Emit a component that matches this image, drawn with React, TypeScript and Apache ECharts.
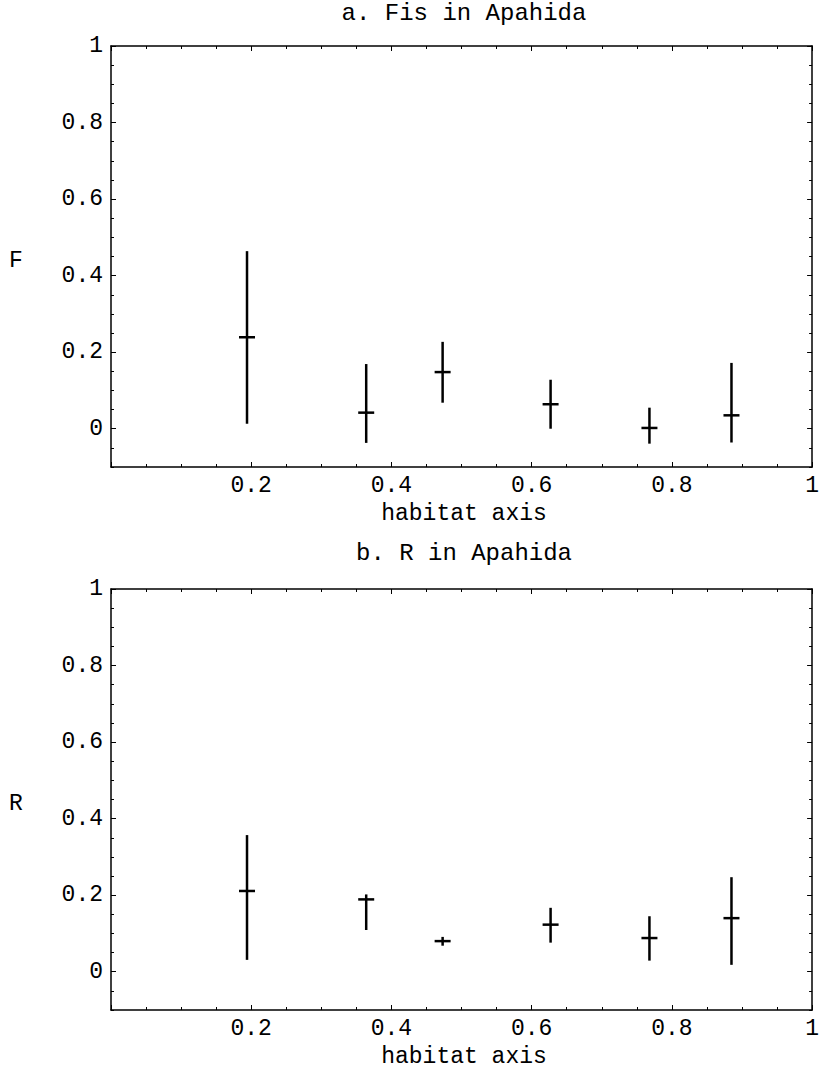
import React, { useEffect, useRef } from "react";
import * as echarts from "echarts";

const habitatX = [0.194, 0.364, 0.473, 0.627, 0.768, 0.885];

const fMid = [0.239, 0.042, 0.148, 0.064, 0.002, 0.035];
const fLow = [0.013, -0.037, 0.068, 0.0, -0.039, -0.036];
const fHigh = [0.464, 0.169, 0.227, 0.128, 0.055, 0.172];

const rMid = [0.211, 0.189, 0.08, 0.123, 0.088, 0.14];
const rLow = [0.031, 0.109, 0.068, 0.076, 0.029, 0.018];
const rHigh = [0.357, 0.202, 0.091, 0.167, 0.145, 0.247];

const yMajorTicks = [0, 0.2, 0.4, 0.6, 0.8, 1];
const yMinorTicks = [-0.1, -0.05, 0.05, 0.1, 0.15, 0.25, 0.3, 0.35, 0.45, 0.5, 0.55, 0.65, 0.7, 0.75, 0.85, 0.9, 0.95];

const titles = ["a. Fis in Apahida", "b. R in Apahida"];
const yNames = ["F", "R"];
const xName = "habitat axis";

const FONT = '"Liberation Mono", "Courier New", monospace';
const FS = 23;

const GRID_LEFT = 111;
const GRID_W = 706;
const GRID_H = 421;
const GRID_TOPS = [46, 589];

export default function App() {
  const ref = useRef<HTMLDivElement>(null);

  useEffect(() => {
    if (!ref.current) return;
    const chart = echarts.init(ref.current, null, { renderer: "svg" });

    const xAxes: any[] = [];
    const yAxes: any[] = [];
    const series: any[] = [];
    const graphics: any[] = [];

    const lineStyle = { color: "#000", width: 1.5 };

    [0, 1].forEach((g) => {
      xAxes.push({
        type: "value",
        gridIndex: g,
        position: "bottom",
        min: 0,
        max: 1,
        interval: 0.2,
        axisLine: { show: true, onZero: false, lineStyle },
        axisTick: { show: true, inside: true, length: 5, lineStyle: { color: "#000", width: 1 } },
        minorTick: { show: true, splitNumber: 4, length: 3, lineStyle: { color: "#000", width: 1 } },
        splitLine: { show: false },
        minorSplitLine: { show: false },
        axisLabel: {
          show: true,
          margin: 7,
          color: "#000",
          fontFamily: FONT,
          fontSize: FS,
          formatter: (v: number) => (v === 0 ? "" : String(Math.round(v * 10) / 10)),
        },
      });
      xAxes.push({
        type: "value",
        gridIndex: g,
        position: "top",
        min: 0,
        max: 1,
        interval: 0.2,
        axisLine: { show: true, onZero: false, lineStyle },
        axisTick: { show: true, inside: true, length: 5, lineStyle: { color: "#000", width: 1 } },
        minorTick: { show: true, splitNumber: 4, length: 3, lineStyle: { color: "#000", width: 1 } },
        splitLine: { show: false },
        axisLabel: { show: false },
      });
      yAxes.push({
        type: "value",
        gridIndex: g,
        position: "left",
        min: -0.1,
        max: 1,
        axisLine: { show: true, onZero: false, lineStyle },
        axisTick: {
          show: true,
          inside: true,
          length: 5,
          customValues: yMajorTicks,
          lineStyle: { color: "#000", width: 1 },
        },
        splitLine: { show: false },
        axisLabel: {
          show: true,
          margin: 8,
          color: "#000",
          fontFamily: FONT,
          fontSize: FS,
          customValues: yMajorTicks,
        },
      });
      yAxes.push({
        type: "value",
        gridIndex: g,
        position: "left",
        offset: 0,
        min: -0.1,
        max: 1,
        axisLine: { show: false, onZero: false },
        axisTick: {
          show: true,
          inside: true,
          length: 3,
          customValues: yMinorTicks,
          lineStyle: { color: "#000", width: 1 },
        },
        splitLine: { show: false },
        axisLabel: { show: false },
      });
      yAxes.push({
        type: "value",
        gridIndex: g,
        position: "right",
        offset: 0,
        min: -0.1,
        max: 1,
        axisLine: { show: true, onZero: false, lineStyle },
        axisTick: {
          show: true,
          inside: true,
          length: 5,
          customValues: yMajorTicks,
          lineStyle: { color: "#000", width: 1 },
        },
        splitLine: { show: false },
        axisLabel: { show: false },
      });
      yAxes.push({
        type: "value",
        gridIndex: g,
        position: "right",
        offset: 0,
        min: -0.1,
        max: 1,
        axisLine: { show: false, onZero: false },
        axisTick: {
          show: true,
          inside: true,
          length: 3,
          customValues: yMinorTicks,
          lineStyle: { color: "#000", width: 1 },
        },
        splitLine: { show: false },
        axisLabel: { show: false },
      });

      const mid = g === 0 ? fMid : rMid;
      const low = g === 0 ? fLow : rLow;
      const high = g === 0 ? fHigh : rHigh;
      const data = habitatX.map((x, i) => [x, low[i], mid[i], high[i]]);

      series.push({
        type: "custom",
        xAxisIndex: g * 2,
        yAxisIndex: g * 4,
        data,
        encode: { x: 0, y: [1, 2, 3] },
        renderItem: (params: any, api: any) => {
          const x = api.value(0);
          const lo = api.value(1);
          const md = api.value(2);
          const hi = api.value(3);
          const pLo = api.coord([x, lo]);
          const pHi = api.coord([x, hi]);
          const pMd = api.coord([x, md]);
          const st = { stroke: "#000", lineWidth: 2.5 };
          return {
            type: "group",
            children: [
              { type: "line", shape: { x1: pLo[0], y1: pLo[1], x2: pHi[0], y2: pHi[1] }, style: st },
              { type: "line", shape: { x1: pMd[0] - 8, y1: pMd[1], x2: pMd[0] + 8, y2: pMd[1] }, style: st },
            ],
          };
        },
      });

      const top = GRID_TOPS[g];
      const cx = GRID_LEFT + GRID_W / 2;
      const textStyle = (text: string, size: number) => ({
        text,
        font: `${size}px ${FONT}`,
        fill: "#000",
        textAlign: "center",
        textVerticalAlign: "middle",
        align: "center",
        verticalAlign: "middle",
      });
      graphics.push({ type: "text", x: cx, y: top - (g === 0 ? 33 : 36), style: textStyle(titles[g], 24) });
      graphics.push({ type: "text", x: cx, y: top + GRID_H + 47, style: textStyle(xName, FS) });
      graphics.push({ type: "text", x: 16, y: top + GRID_H / 2 + 4, style: textStyle(yNames[g], FS) });
    });

    chart.setOption({
      animation: false,
      backgroundColor: "#fff",
      grid: GRID_TOPS.map((t) => ({ left: GRID_LEFT, top: t, width: GRID_W, height: GRID_H })),
      xAxis: xAxes,
      yAxis: yAxes,
      series,
      graphic: graphics,
    });

    return () => chart.dispose();
  }, []);

  return (
    <div
      ref={ref}
      style={{ position: "absolute", left: 0, top: 0, width: 822, height: 1070, background: "#fff" }}
    />
  );
}
